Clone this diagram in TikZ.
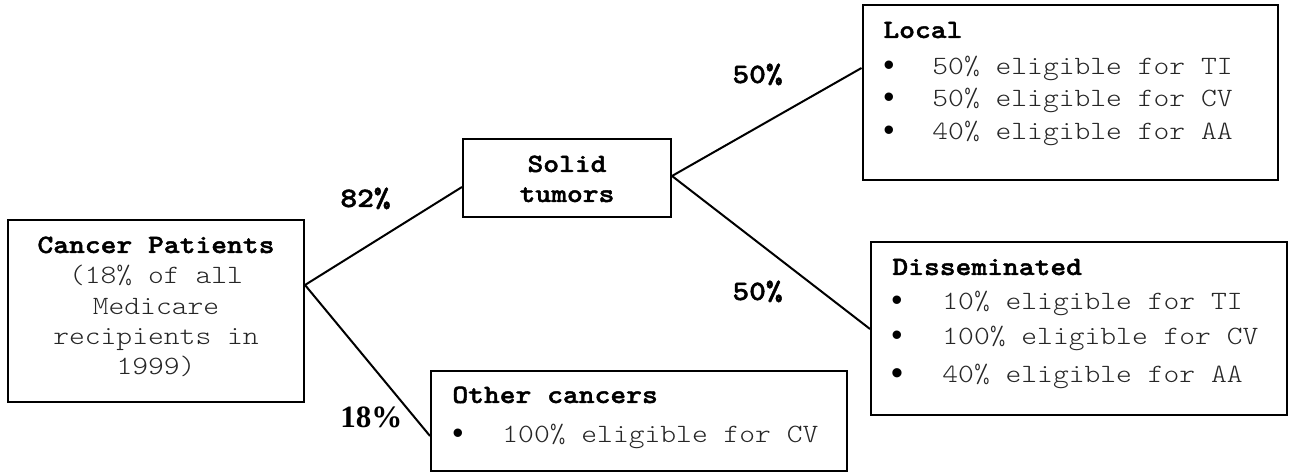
\documentclass[tikz,border=0pt]{standalone}
\usepackage{fontspec}
\setmainfont{Latin Modern Mono Light}[FakeStretch=1.14, BoldFeatures={FakeBold=1.6}]
\newfontfamily\timesfont{Liberation Serif}
\newfontfamily\bulfont{Liberation Mono}
\usetikzlibrary{calc}
\begin{document}
\begin{tikzpicture}[x=0.5pt,y=-0.5pt,
  box/.style={draw, line width=1pt, inner sep=0pt},
  conn/.style={line width=1pt},
  ttl/.style={inner sep=0pt, font=\fontsize{13.2}{15}\selectfont\bfseries},
  itm/.style={inner sep=0pt, anchor=base west, text=black!85, font=\fontsize{13.2}{15}\selectfont},
  bul/.style={inner sep=0pt, anchor=base, text height=7pt, text depth=0pt, font=\bulfont\fontsize{15.5}{16}\selectfont},
  pct/.style={inner sep=0pt, anchor=base west, font=\fontsize{14}{15}\selectfont\bfseries}]
\useasboundingbox (0,0) rectangle (1290,474);
% boxes
\node[box, minimum width=148pt, minimum height=91pt] (cp) at (156,311) {};
\node[box, minimum width=104pt, minimum height=39pt] (st) at (567,178) {};
\node[box, minimum width=207.5pt, minimum height=87.5pt] (loc) at (1070,92.5) {};
\node[box, minimum width=208pt, minimum height=86.5pt] (dis) at (1079,328.5) {};
\node[box, minimum width=208pt, minimum height=50pt] (oth) at (639,421) {};
% connectors
\draw[conn] (cp.east |- {(0,285)}) -- (st.west |- {(0,187)});
\draw[conn] (cp.east |- {(0,285)}) -- (oth.west |- {(0,436)});
\draw[conn] (st.east |- {(0,176)}) -- (loc.west |- {(0,68)});
\draw[conn] (st.east |- {(0,176)}) -- (dis.west |- {(0,329)});
% Cancer patients text
\node[ttl, anchor=base] (cp1) at (156,253) {Cancer Patients};
\node[itm, anchor=base] (cp2) at (156,284) {(18\% of all};
\node[itm, anchor=base] (cp3) at (156,315) {Medicare};
\node[itm, anchor=base] (cp4) at (156,345) {recipients in};
\node[itm, anchor=base] (cp5) at (156,375) {1999)};
% Solid tumors
\node[ttl, anchor=base] (st1) at (567,172) {Solid};
\node[ttl, anchor=base] (st2) at (567,202) {tumors};
% Local
\node[ttl, anchor=base west] (loct) at (883,38) {Local};
\node[bul] (locb1) at (889,76) {•};
\node[bul] (locb2) at (889,108) {•};
\node[bul] (locb3) at (889,141) {•};
\node[itm] (loci1) at (932,75) {50\% eligible for TI};
\node[itm] (loci2) at (932,107) {50\% eligible for CV};
\node[itm] (loci3) at (932,140) {40\% eligible for AA};
% Disseminated
\node[ttl, anchor=base west] (dist) at (892,275) {Disseminated};
\node[bul] (disb1) at (897,311) {•};
\node[bul] (disb2) at (897,346) {•};
\node[bul, font=\bulfont\fontsize{17}{17}\selectfont] (disb3) at (897,385) {•};
\node[itm] (disi1) at (942,310) {10\% eligible for TI};
\node[itm] (disi2) at (942,345) {100\% eligible for CV};
\node[itm] (disi3) at (942,383) {40\% eligible for AA};
% Other cancers
\node[ttl, anchor=base west] (otht) at (452,403) {Other cancers};
\node[bul] (othb1) at (458,444) {•};
\node[itm] (othi1) at (502,443) {100\% eligible for CV};
% percentages
\node[pct] (p82) at (340,207) {82\%};
\node[pct] (p50a) at (732,83) {50\%};
\node[pct] (p50b) at (732,300) {50\%};
\node[pct, font=\timesfont\fontsize{15.5}{16}\selectfont\bfseries] (p18) at (340,428) {18\%};
\end{tikzpicture}
\end{document}
